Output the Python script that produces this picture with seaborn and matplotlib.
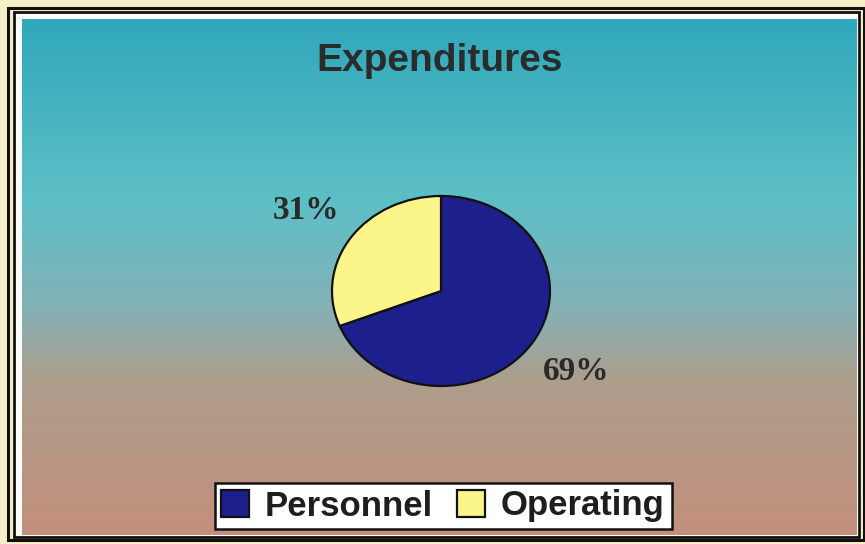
import numpy as np
import matplotlib
matplotlib.use("Agg")
import matplotlib.pyplot as plt
from matplotlib.colors import LinearSegmentedColormap
from matplotlib.patches import Rectangle
import seaborn as sns

# data
categories = ["Personnel", "Operating"]
shares = [69, 31]
slice_colors = ["#1c1f8c", "#fbf58a"]

title = "Expenditures"

# background gradient stops (top -> bottom)
grad_stops = [0.0, 0.35, 0.55, 0.7, 1.0]
grad_colors = ["#30a8ba", "#5dbfc6", "#82b2b8", "#ad9e8c", "#c28f7c"]

sns.set_theme(style="white")
plt.rcParams["font.family"] = ["Liberation Sans", "DejaVu Sans"]

W, H = 865, 544
fig = plt.figure(figsize=(W / 100, H / 100), dpi=100)
fig.patch.set_facecolor("#f7efc6")


def fx(px):
    return px / W


def fy(py):
    return 1 - py / H


# double black frame with white gap (behind everything)
fig.add_artist(Rectangle((fx(8), fy(540)), fx(856), 532 / H, transform=fig.transFigure,
                         fill=False, edgecolor="#111111", lw=2.2, zorder=-2))
fig.add_artist(Rectangle((fx(14), fy(537)), fx(845), 525 / H, transform=fig.transFigure,
                         facecolor="white", edgecolor="#111111", lw=2.0, zorder=-2))

# gradient panel
bg = fig.add_axes([fx(22), fy(535), fx(835), (535 - 19) / H])
cmap = LinearSegmentedColormap.from_list("bg", list(zip(grad_stops, grad_colors)))
grad = np.linspace(0, 1, 256).reshape(-1, 1)
bg.imshow(grad, aspect="auto", cmap=cmap, extent=[0, 1, 0, 1], origin="upper")
bg.set_axis_off()

fig.text(fx(440), fy(61), title, ha="center", va="center", fontsize=28,
         fontweight="bold", color="#2b2b2b")

# pie, slightly squashed vertically like the original
rx, ry = 109, 95
cx, cy = 441, 291
ax = fig.add_axes([fx(cx - rx), fy(cy + ry), fx(2 * rx), 2 * ry / H])
wedges, _, autotexts = ax.pie(
    shares, colors=slice_colors, startangle=90, counterclock=False,
    autopct="%d%%", pctdistance=1.5,
    wedgeprops=dict(edgecolor="#111111", linewidth=1.6),
)
ax.set_aspect("auto")
ax.set_xlim(-1, 1)
ax.set_ylim(-1, 1)
ax.set_axis_off()
for t in autotexts:
    t.set_fontfamily(["Liberation Serif", "DejaVu Serif"])
    t.set_fontsize(24)
    t.set_fontweight("bold")
    t.set_color("#2a2a2a")

leg = fig.legend(wedges, categories, loc="center", bbox_to_anchor=(fx(443), fy(506)),
                 ncol=2, frameon=True, fancybox=False, handlelength=0.8, handleheight=0.8,
                 handletextpad=0.45, columnspacing=0.7, borderpad=0.2, borderaxespad=0,
                 prop=dict(family="Liberation Sans", weight="bold", size=25))
leg.get_frame().set_edgecolor("#111111")
leg.get_frame().set_linewidth(1.8)
leg.get_frame().set_facecolor("white")
leg.get_frame().set_alpha(1)
for t in leg.get_texts():
    t.set_color("#1e1e1e")

fig.savefig("out.png", dpi=100)
